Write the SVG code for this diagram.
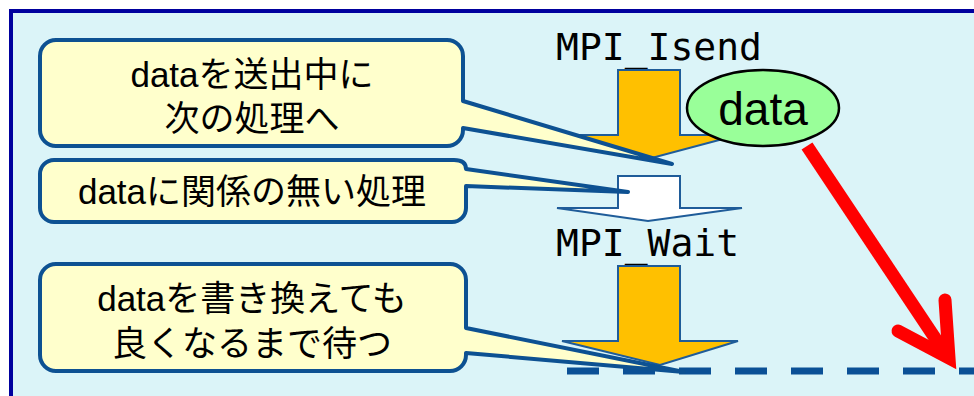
<svg xmlns="http://www.w3.org/2000/svg" width="974" height="396" viewBox="0 0 974 396">
<style>
.callout{fill:#FFFFCC;stroke:#0D5192;stroke-width:4;stroke-linejoin:round}
.txt{font-family:"Liberation Sans","Noto Sans CJK JP",sans-serif;font-size:35px;fill:#000;text-anchor:middle}
.mono{font-family:"DejaVu Sans Mono","Liberation Mono",monospace;font-size:38px;fill:#000}
.yarrow{fill:#FFC000;stroke:#1F5C99;stroke-width:2;stroke-linejoin:miter}
.warrow{fill:#FFFFFF;stroke:#1F5C99;stroke-width:2}
</style>
<rect x="0" y="0" width="974" height="396" fill="#FFFFFF"/>
<rect id="frame" x="11" y="11" width="980" height="400" fill="#DBF4F8" stroke="#00009E" stroke-width="4"/>

<g id="connectors">
  <line x1="567" y1="371" x2="974" y2="371" stroke="#0B5096" stroke-width="7" stroke-dasharray="32 24"/>
  <line x1="807" y1="146" x2="945" y2="353" stroke="#FF0000" stroke-width="13"/>
  <polyline points="898,331 949,358 945,300" fill="none" stroke="#FF0000" stroke-width="13" stroke-linecap="round" stroke-linejoin="miter" stroke-miterlimit="10"/>
</g>

<g id="isend">
  <text class="mono" x="556" y="60">MPI_Isend</text>
  <polygon class="yarrow" points="618,70 680,70 680,135 738,135 648,159 575,135 618,135"/>
</g>

<g id="other">
  <polygon class="warrow" points="618,176 680,176 680,208 742,208 648,221 557,208 618,208"/>
</g>

<g id="wait">
  <text class="mono" x="556" y="256">MPI_Wait</text>
  <polygon class="yarrow" points="618,266 680,266 680,341 738,341 660,365 562,341 618,341"/>
</g>

<g id="data">
  <ellipse cx="763" cy="108" rx="76" ry="38" fill="#99FF99" stroke="#000" stroke-width="2.5"/>
  <text x="763" y="125" font-family="Liberation Sans, Arial, sans-serif" font-size="46" text-anchor="middle" fill="#000">data</text>
</g>

<g id="callout1">
  <path class="callout" d="M56,40 H447 A16,16 0 0 1 463,56 V101 L672,164 L463,128 V130 A16,16 0 0 1 447,146 H56 A16,16 0 0 1 40,130 V56 A16,16 0 0 1 56,40 Z"/>
  <text class="txt" x="252" y="87">dataを送出中に</text>
  <text class="txt" x="252" y="131">次の処理へ</text>
</g>

<g id="callout2">
  <path class="callout" d="M54,160 H454 Q466,160 466,169 L628,192 L466,186 V208 A14,14 0 0 1 452,222 H54 A14,14 0 0 1 40,208 V174 A14,14 0 0 1 54,160 Z"/>
  <text class="txt" x="252" y="204" font-size="36">dataに関係の無い処理</text>
</g>

<g id="callout3">
  <path class="callout" d="M56,264 H450 A16,16 0 0 1 466,280 V328 L684,372 L466,353 V355 A16,16 0 0 1 450,371 H56 A16,16 0 0 1 40,355 V280 A16,16 0 0 1 56,264 Z"/>
  <text class="txt" x="252" y="311">dataを書き換えても</text>
  <text class="txt" x="252" y="356">良くなるまで待つ</text>
</g>
</svg>
